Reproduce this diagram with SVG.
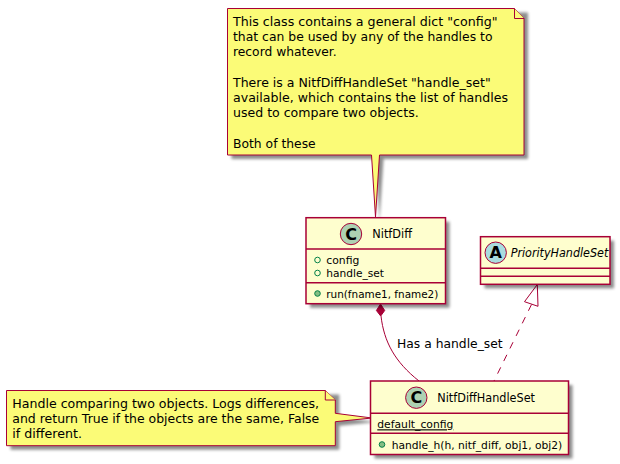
<svg xmlns="http://www.w3.org/2000/svg" width="620" height="464" viewBox="0 0 620 464">
<style>
text{font-family:"DejaVu Sans","Liberation Sans",sans-serif;fill:#000}
.n{font-size:12.6px}
.m{font-size:11.2px}
.t{font-size:12.2px}
.box{fill:#FEFECE;stroke:#A80036;stroke-width:1.5}
.note{fill:#FBFB77;stroke:#A80036;stroke-width:1}
.div{stroke:#A80036;stroke-width:1.5;fill:none}
.circ{stroke:#A80036;stroke-width:1}
.c{font-size:16px;font-weight:bold;text-anchor:middle}
.sh{fill:#000;opacity:.45}
</style>
<defs>
<filter id="s" x="-10%" y="-10%" width="125%" height="125%"><feGaussianBlur stdDeviation="1.800"/></filter>
</defs>
<g id="connectors" fill="none" stroke="#A80036">
<path d="M381 316C384 342 395 362 419 381"/>
<path d="M380.500 304L384.700 310.500L380.700 316L376.400 310.500Z" fill="#A80036"/>
<path d="M531.500 304.500L494 381" stroke-dasharray="7 7"/>
<path d="M537.300 284.500L538 306.300L524.500 301.700Z" fill="#fff"/>
<text x="397" y="348.300" class="t" stroke="none" textLength="105.700" lengthAdjust="spacingAndGlyphs">Has a handle_set</text>
</g>
<g id="note-top">
<path class="sh" d="M231.500 12.500H528V159H383.500L379.500 221L375.500 159H231.500Z" filter="url(#s)"/>
<path class="note" d="M227.500 8.500H514.500L524 18.500V155H379.500L375.500 217L371.500 155H227.500Z"/>
<path class="note" d="M514.500 8.500V18.500H524"/>
<g class="n">
<text x="233" y="26" textLength="264.500" lengthAdjust="spacingAndGlyphs">This class contains a general dict "config"</text>
<text x="233" y="41" textLength="259.500" lengthAdjust="spacingAndGlyphs">that can be used by any of the handles to</text>
<text x="233" y="56" textLength="103.700" lengthAdjust="spacingAndGlyphs">record whatever.</text>
<text x="233" y="87" textLength="257.700" lengthAdjust="spacingAndGlyphs">There is a NitfDiffHandleSet "handle_set"</text>
<text x="233" y="102" textLength="275" lengthAdjust="spacingAndGlyphs">available, which contains the list of handles</text>
<text x="233" y="117" textLength="185.700" lengthAdjust="spacingAndGlyphs">used to compare two objects.</text>
<text x="233" y="148" textLength="82.700" lengthAdjust="spacingAndGlyphs">Both of these</text>
</g>
</g>
<g id="note-bottom">
<path class="sh" d="M10.500 394.500H339.300V417.300L376 422L339.300 425.700V449.700H10.500Z" filter="url(#s)"/>
<path class="note" d="M6.500 390.500H325.300L335.300 400V413.300L372 418L335.300 421.700V445.700H6.500Z"/>
<path class="note" d="M325.300 390.500V400H335.300"/>
<g class="n">
<text x="12.300" y="408" textLength="306.700" lengthAdjust="spacingAndGlyphs">Handle comparing two objects. Logs differences,</text>
<text x="12.300" y="423" textLength="307" lengthAdjust="spacingAndGlyphs">and return True if the objects are the same, False</text>
<text x="12.300" y="438" textLength="69.700" lengthAdjust="spacingAndGlyphs">if different.</text>
</g>
</g>
<g id="NitfDiff">
<rect class="sh" x="310" y="221.700" width="139.500" height="86" filter="url(#s)"/>
<rect class="box" x="306" y="217.700" width="139.500" height="86"/>
<path class="div" d="M306 249H445.500M306 282.700H445.500"/>
<circle class="circ" cx="351" cy="234" r="10.700" fill="#ADD1B2"/>
<text class="c" x="351" y="239.700">C</text>
<text x="372.300" y="238.300" class="t" textLength="39.700" lengthAdjust="spacingAndGlyphs">NitfDiff</text>
<circle cx="317.500" cy="260" r="2.800" fill="none" stroke="#038048"/>
<text class="m" x="326.300" y="264.300" textLength="33" lengthAdjust="spacingAndGlyphs">config</text>
<circle cx="317.500" cy="273" r="2.800" fill="none" stroke="#038048"/>
<text class="m" x="326.300" y="277.300" textLength="57.700" lengthAdjust="spacingAndGlyphs">handle_set</text>
<circle cx="317.500" cy="293.500" r="2.800" fill="#84BE84" stroke="#038048"/>
<text class="m" x="326.300" y="298" textLength="112" lengthAdjust="spacingAndGlyphs">run(fname1, fname2)</text>
</g>
<g id="PriorityHandleSet">
<rect class="sh" x="484.500" y="240.700" width="129.500" height="47.600" filter="url(#s)"/>
<rect class="box" x="480.500" y="236.700" width="129.500" height="47.600"/>
<path class="div" d="M480.500 268.300H610M480.500 276.300H610"/>
<circle class="circ" cx="495.700" cy="252.700" r="10.700" fill="#A9DCDF"/>
<text class="c" x="495.700" y="258.400">A</text>
<text x="510.700" y="256.700" class="t" font-style="italic" textLength="97.600" lengthAdjust="spacingAndGlyphs">PriorityHandleSet</text>
</g>
<g id="NitfDiffHandleSet">
<rect class="sh" x="374.500" y="385" width="198" height="73.500" filter="url(#s)"/>
<rect class="box" x="370.500" y="381" width="198" height="73.500"/>
<path class="div" d="M370.500 413.300H568.500M370.500 433.300H568.500"/>
<circle class="circ" cx="416.300" cy="397.700" r="10.700" fill="#ADD1B2"/>
<text class="c" x="416.300" y="403.400">C</text>
<text x="437.300" y="402" class="t" textLength="97.700" lengthAdjust="spacingAndGlyphs">NitfDiffHandleSet</text>
<text class="m" x="377.300" y="428.300" text-decoration="underline" textLength="76" lengthAdjust="spacingAndGlyphs">default_config</text>
<circle cx="382" cy="444.500" r="2.800" fill="#84BE84" stroke="#038048"/>
<text class="m" x="391.700" y="449" textLength="170.600" lengthAdjust="spacingAndGlyphs">handle_h(h, nitf_diff, obj1, obj2)</text>
</g>
</svg>
